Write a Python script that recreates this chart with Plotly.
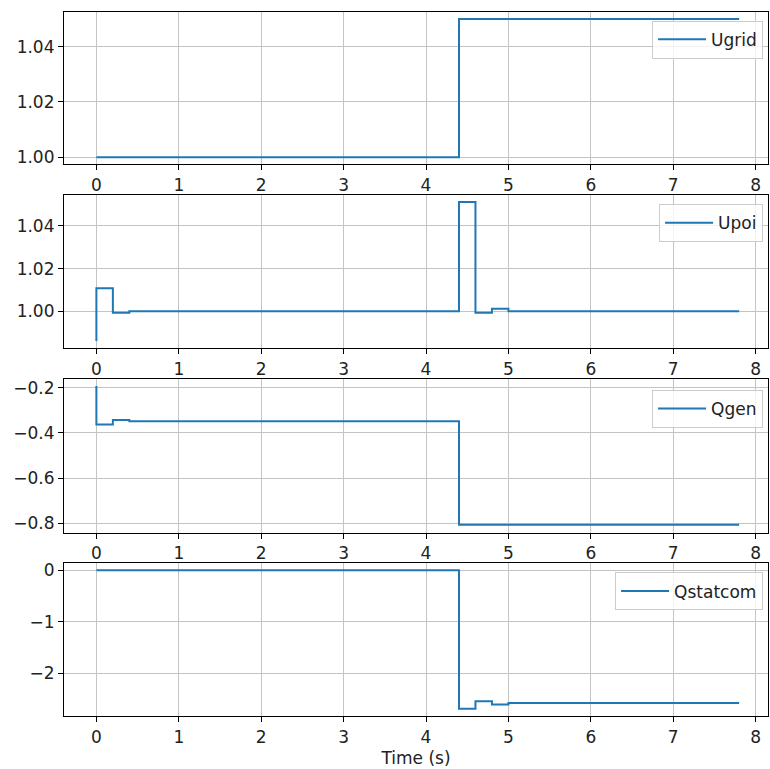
import plotly.graph_objects as go
from plotly.subplots import make_subplots

# Step-wise time series (value holds until the next time stamp)
t_ugrid = [0.0, 4.4, 7.8]
ugrid = [1.000, 1.050, 1.050]

t_upoi = [0.0, 0.0, 0.2, 0.4, 4.4, 4.6, 4.8, 5.0, 7.8]
upoi = [0.986, 1.0107, 0.9993, 1.000, 1.0512, 0.9993, 1.0011, 1.000, 1.000]

t_qgen = [0.0, 0.0, 0.2, 0.4, 4.4, 7.8]
qgen = [-0.193, -0.363, -0.343, -0.348, -0.806, -0.806]

t_qstat = [0.0, 4.4, 4.6, 4.8, 5.0, 7.8]
qstat = [0.0, -2.694, -2.546, -2.61, -2.58, -2.58]

names = ["Ugrid", "Upoi", "Qgen", "Qstatcom"]
xs = [t_ugrid, t_upoi, t_qgen, t_qstat]
ys = [ugrid, upoi, qgen, qstat]

y_ranges = [[0.9975, 1.0525], [0.9827, 1.0545], [-0.8405, -0.162], [-2.835, 0.133]]
y_dticks = [0.02, 0.02, 0.2, 1]
y_formats = [".2f", ".2f", ".1f", "d"]
domains = [[0.7837, 1.0], [0.5227, 0.74], [0.2604, 0.4787], [0.0, 0.2169]]
legend_y = [0.9876, 0.727, 0.463, 0.204]

fig = make_subplots(rows=4, cols=1)
BLUE = "#1f77b4"
FONT = "DejaVu Sans"
FS = 17

for i in range(4):
    lg = "legend" if i == 0 else f"legend{i+1}"
    fig.add_trace(go.Scatter(x=xs[i], y=ys[i], mode="lines", name=names[i],
                             line=dict(color=BLUE, width=2, shape="hv"),
                             legend=lg), row=i + 1, col=1)
    axis_common = dict(showline=True, linecolor="black", linewidth=1.2, mirror=True,
                       ticks="outside", ticklen=5, tickcolor="black", tickwidth=1,
                       showgrid=True, gridcolor="#c4c4c4", gridwidth=1,
                       zeroline=False, tickfont=dict(family=FONT, size=FS, color="#222222"))
    fig.update_xaxes(range=[-0.393, 8.15], dtick=1, tick0=0, **axis_common, row=i + 1, col=1)
    fig.update_yaxes(range=y_ranges[i], dtick=y_dticks[i], tickformat=y_formats[i],
                     domain=domains[i], **axis_common, row=i + 1, col=1)
    leg = dict(x=0.993, y=legend_y[i], xanchor="right", yanchor="top",
               bgcolor="rgba(255,255,255,0.8)", bordercolor="#cccccc", borderwidth=1,
               itemwidth=48,
               font=dict(family=FONT, size=FS, color="#222222"))
    fig.update_layout(**{lg: leg})

fig.update_xaxes(title=dict(text="Time (s)", font=dict(family=FONT, size=FS, color="#222222"),
                            standoff=6), row=4, col=1)

fig.update_layout(width=770, height=769, margin=dict(l=64, r=2, t=12, b=53),
                  plot_bgcolor="white", paper_bgcolor="white", showlegend=True,
                  font=dict(family=FONT, size=FS, color="#222222"))

fig.write_html("out.html")
